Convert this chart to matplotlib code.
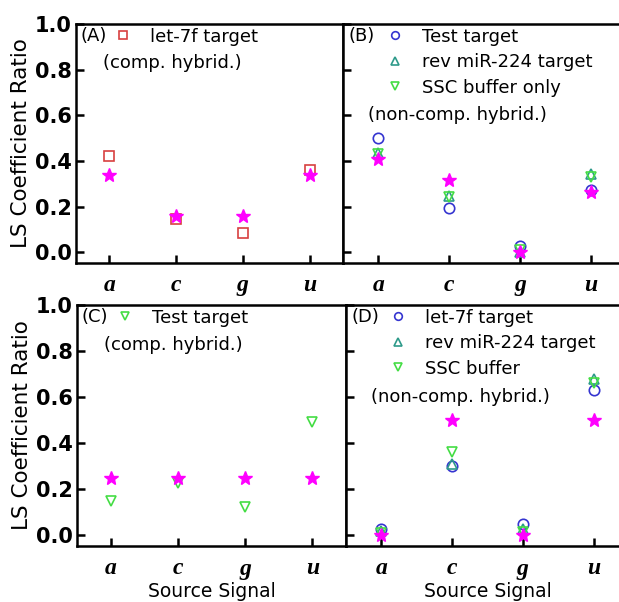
import matplotlib
matplotlib.use("Agg")
import matplotlib.pyplot as plt
from matplotlib.lines import Line2D

bases = ["a", "c", "g", "u"]

# panel A
a_let7f = [0.42, 0.145, 0.083, 0.36]
a_star = [0.34, 0.16, 0.16, 0.34]
# panel B
b_test = [0.50, 0.195, 0.026, 0.274]
b_rev = [0.434, 0.247, 0.0, 0.344]
b_ssc = [0.43, 0.24, 0.01, 0.33]
b_star = [0.41, 0.317, 0.0, 0.264]
# panel C
c_test = [0.146, 0.223, 0.121, 0.49]
c_star = [0.245, 0.245, 0.245, 0.245]
# panel D
d_let7f = [0.023, 0.30, 0.048, 0.63]
d_rev = [0.016, 0.307, 0.026, 0.677]
d_ssc = [0.005, 0.36, 0.01, 0.66]
d_star = [0.0, 0.5, 0.0, 0.5]

RED = "#d84040"
BLUE = "#3535d0"
TEAL = "#2e9a8a"
GREEN = "#44dd44"
MAG = "#ff00ff"

plt.rcParams['font.family'] = ['DejaVu Sans']

fig = plt.figure(figsize=(6.19, 6.02), dpi=100)
W, H = 619.0, 602.0

def make_ax(l, t, r, b, ymin):
    ax = fig.add_axes([l / W, 1 - b / H, (r - l) / W, (b - t) / H])
    ax.set_xlim(0.5, 4.5)
    ax.set_ylim(ymin, 1.0)
    ax.set_xticks(range(1, 5))
    ax.set_xticklabels(bases, family='Liberation Serif', weight='bold',
                       style='italic', fontsize=17)
    ax.set_yticks([0.0, 0.2, 0.4, 0.6, 0.8, 1.0])
    ax.tick_params(direction='in', length=6, width=1.8, top=False, right=False)
    ax.tick_params(axis='x', pad=9)
    ax.tick_params(axis='y', pad=3)
    for s in ax.spines.values():
        s.set_linewidth(1.8)
    return ax

axA = make_ax(76, 24, 343, 263, -0.047)
axB = make_ax(343, 24, 626, 263, -0.047)
axC = make_ax(77, 305, 346, 546, -0.05)
axD = make_ax(346, 305, 629, 546, -0.05)

for ax in (axA, axC):
    ax.set_yticklabels(["0.0", "0.2", "0.4", "0.6", "0.8", "1.0"],
                       fontweight='bold', fontsize=15)
    ax.set_ylabel("LS Coefficient Ratio", fontsize=15.5, labelpad=3)
for ax in (axB, axD):
    ax.set_yticklabels([])
for ax in (axC, axD):
    ax.set_xlabel("Source Signal", fontsize=13.5, labelpad=2)

x = [1, 2, 3, 4]
ms = 7.5
sq = dict(marker='s', mfc='none', mec=RED, mew=1.2, ls='none', ms=7)
ci = dict(marker='o', mfc='none', mec=BLUE, mew=1.2, ls='none', ms=ms)
tu = dict(marker='^', mfc='none', mec=TEAL, mew=1.2, ls='none', ms=ms)
td = dict(marker='v', mfc='none', mec=GREEN, mew=1.2, ls='none', ms=ms)
st = dict(marker='*', color=MAG, ls='none', ms=10)

axA.plot(x, a_let7f, **sq)
axA.plot(x, a_star, **st)

axB.plot(x, b_test, **ci)
axB.plot(x, b_rev, **tu)
axB.plot(x, b_ssc, **td)
axB.plot(x, b_star, **st)

axC.plot(x, c_test, **td)
axC.plot(x, c_star, **st)

axD.plot(x, d_let7f, **ci)
axD.plot(x, d_rev, **tu)
axD.plot(x, d_ssc, **td)
axD.plot(x, d_star, **st)

def key(style):
    s = dict(style)
    s['ms'] = 5.5
    return Line2D([], [], **s)

def legend(ax, tag, handles, labels, note, lx, nx, ny):
    ax.text(0.018, 0.95, tag, transform=ax.transAxes, fontsize=13, va='center', ha='left')
    ax.legend(handles, labels, loc='upper left', bbox_to_anchor=(lx, 1.0),
              frameon=False, fontsize=13, handlelength=1.0, handletextpad=1.0,
              labelspacing=0.42, borderpad=0.2, borderaxespad=0)
    ax.text(nx, ny, note, transform=ax.transAxes, fontsize=13, va='center', ha='left')

legend(axA, "(A)", [key(sq)], ["let-7f target"], "(comp. hybrid.)", 0.13, 0.10, 0.835)
legend(axB, "(B)", [key(ci), key(tu), key(td)],
       ["Test target", "rev miR-224 target", "SSC buffer only"],
       "(non-comp. hybrid.)", 0.14, 0.09, 0.62)
legend(axC, "(C)", [key(td)], ["Test target"], "(comp. hybrid.)", 0.13, 0.10, 0.835)
legend(axD, "(D)", [key(ci), key(tu), key(td)],
       ["let-7f target", "rev miR-224 target", "SSC buffer"],
       "(non-comp. hybrid.)", 0.14, 0.09, 0.62)

fig.savefig("out.png", dpi=100)
